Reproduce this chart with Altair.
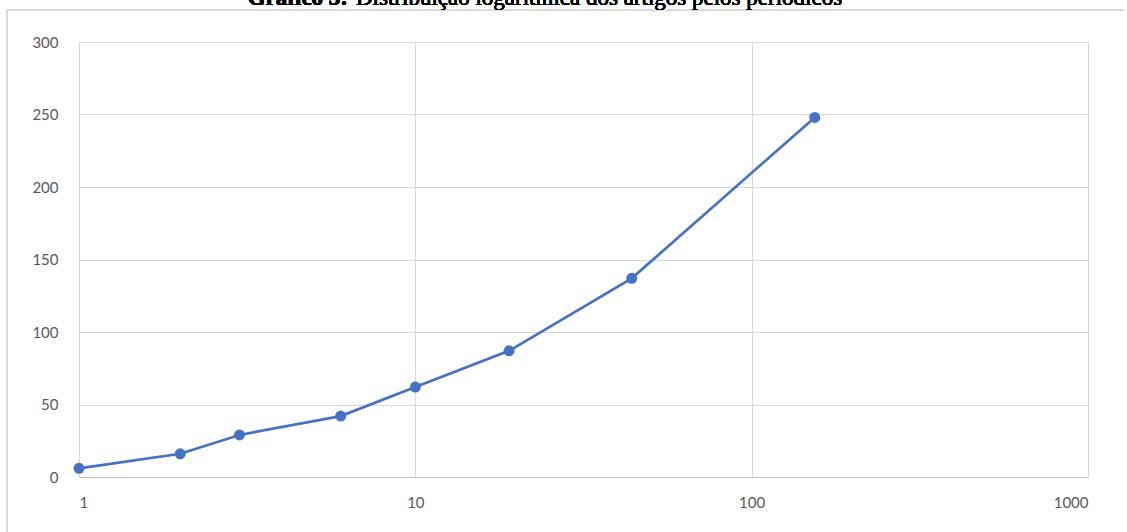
import altair as alt
import pandas as pd

# Number of journals (log scale) vs. cumulative number of articles
journals = [1, 2, 3, 6, 10, 19, 44, 154]
articles = [6, 16, 29, 42, 62, 87, 137, 248]

x_ticks = [1, 10, 100, 1000]
y_ticks = [0, 50, 100, 150, 200, 250, 300]

title_bold = "Gráfico 3:"
title_rest = "Distribuição logarítmica dos artigos pelos periódicos"

df = pd.DataFrame({"periodicos": journals, "artigos": articles})

W, H = 1009, 435
PAD = {"left": 79, "top": 42, "right": 39, "bottom": 55}
BLUE = "#4472C4"
GRID = "#d9d9d9"
LABEL = "#595959"
FONT = "Lato"

x_enc = alt.X(
    "periodicos:Q",
    scale=alt.Scale(type="log", domain=[1, 1000]),
    axis=alt.Axis(
        values=x_ticks, format="d", title=None, grid=True, gridColor=GRID,
        domainColor="#bfbfbf", ticks=False, labelPadding=18,
        labelFont=FONT, labelFontSize=15, labelColor=LABEL,
    ),
)
y_enc = alt.Y(
    "artigos:Q",
    scale=alt.Scale(domain=[0, 300], nice=False),
    axis=alt.Axis(
        values=y_ticks, title=None, grid=True, gridColor=GRID,
        domainColor=GRID, ticks=False, labelPadding=21,
        labelFont=FONT, labelFontSize=15, labelColor=LABEL,
    ),
)

line = alt.Chart(df).mark_line(color=BLUE, strokeWidth=2.7).encode(x=x_enc, y=y_enc)
points = alt.Chart(df).mark_circle(color=BLUE, size=120, opacity=1).encode(
    x="periodicos:Q", y="artigos:Q"
)

# Chart-area frame (top and left edges)
frame_top = alt.Chart(df).mark_rule(color=GRID, strokeWidth=1.5).encode(
    x=alt.value(-72), x2=alt.value(1045), y=alt.value(-32)
)
frame_left = alt.Chart(df).mark_rule(color=GRID, strokeWidth=1.5).encode(
    x=alt.value(-72), y=alt.value(-32), y2=alt.value(495)
)

# Caption above the chart, bold label followed by regular text
cap_bold = alt.Chart(df).mark_text(
    text=title_bold, font="Liberation Serif", fontSize=23, fontWeight="bold",
    align="right", baseline="alphabetic", color="#000000",
).encode(x=alt.value(269), y=alt.value(-37))
cap_rest = alt.Chart(df).mark_text(
    text=title_rest, font="Liberation Serif", fontSize=23,
    align="left", baseline="alphabetic", color="#000000",
).encode(x=alt.value(277), y=alt.value(-37))

chart = (
    alt.layer(frame_top, frame_left, line, points, cap_bold, cap_rest)
    .properties(
        width=W, height=H, padding=PAD,
        autosize=alt.AutoSizeParams(type="none"),
        background="white",
    )
    .configure_view(stroke=None)
)

chart.save("out.html", embed_options={"renderer": "svg", "actions": False})
